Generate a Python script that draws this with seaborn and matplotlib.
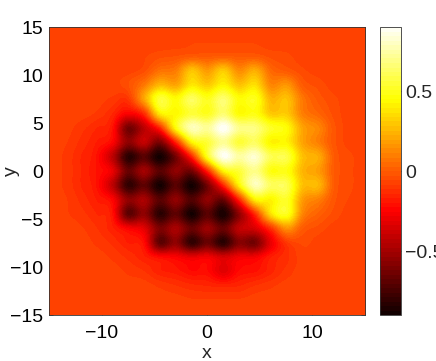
import numpy as np
import pandas as pd
import matplotlib
matplotlib.use("Agg")
import matplotlib.pyplot as plt
from matplotlib.colors import ListedColormap
import seaborn as sns

# node positions of the field
x_nodes = [-15, -13.5, -12, -10.5, -9, -7.5, -6, -4.5, -3, -1.5, 0, 1.5, 3, 4.5, 6, 7.5, 9, 10.5, 12, 13.5, 15]
y_nodes = [15, 13.5, 12, 10.5, 9, 7.5, 6, 4.5, 3, 1.5, 0, -1.5, -3, -4.5, -6, -7.5, -9, -10.5, -12, -13.5, -15]

values = [
    [-.07,-.07,-.07,-.07,-.07,-.07,-.07,-.07,-.07,-.07,-.07,-.07,-.07,-.07,-.07,-.07,-.07,-.07,-.07,-.07,-.07],
    [-.07,-.07,-.07,-.07,-.07,-.07,-.07,-.07,-.07,-.06,-.06,-.06,-.06,-.06,-.07,-.07,-.07,-.07,-.07,-.07,-.07],
    [-.07,-.07,-.07,-.07,-.07,-.07,-.06,-.04,-.03,-.01,-.01,0,-.01,-.01,-.04,-.05,-.07,-.07,-.07,-.07,-.07],
    [-.07,-.07,-.07,-.07,-.07,-.07,-.04,.06,.09,.28,.17,.3,.13,.22,.04,-.01,-.05,-.07,-.07,-.07,-.07],
    [-.07,-.07,-.07,-.07,-.07,-.03,.08,.25,.2,.38,.3,.42,.28,.36,.12,.16,0,-.04,-.07,-.07,-.07],
    [-.07,-.07,-.07,-.07,-.09,-.1,.2,.55,.45,.62,.5,.65,.46,.5,.24,.28,.08,-.01,-.05,-.07,-.07],
    [-.07,-.07,-.07,-.09,-.14,-.25,-.12,.4,.43,.55,.5,.65,.45,.48,.3,.3,.1,.03,-.04,-.07,-.07],
    [-.07,-.07,-.1,-.14,-.2,-.62,-.42,-.14,.45,.78,.72,.9,.7,.68,.52,.45,.2,.12,-.02,-.07,-.07],
    [-.07,-.08,-.12,-.17,-.24,-.55,-.4,-.6,-.15,.42,.55,.72,.55,.62,.42,.42,.2,.1,-.02,-.07,-.07],
    [-.07,-.09,-.14,-.2,-.42,-.82,-.7,-.88,-.62,-.15,.5,.88,.74,.82,.6,.58,.28,.22,0,-.05,-.07],
    [-.07,-.09,-.14,-.2,-.3,-.66,-.5,-.7,-.55,-.62,-.15,.42,.55,.7,.48,.48,.25,.18,0,-.05,-.07],
    [-.07,-.09,-.14,-.2,-.42,-.8,-.68,-.88,-.7,-.88,-.62,-.15,.42,.78,.62,.6,.28,.25,0,-.05,-.07],
    [-.07,-.08,-.12,-.17,-.24,-.55,-.48,-.7,-.55,-.72,-.55,-.65,-.15,.4,.42,.52,.18,.1,-.02,-.06,-.07],
    [-.07,-.08,-.1,-.14,-.2,-.68,-.55,-.82,-.68,-.88,-.7,-.87,-.55,-.13,.36,.5,.12,.02,-.04,-.07,-.07],
    [-.07,-.07,-.08,-.11,-.16,-.25,-.32,-.6,-.48,-.66,-.52,-.66,-.42,-.35,-.12,.15,0,-.04,-.07,-.07,-.07],
    [-.07,-.07,-.07,-.09,-.12,-.17,-.22,-.68,-.55,-.8,-.65,-.82,-.58,-.62,-.3,-.1,-.05,-.07,-.07,-.07,-.07],
    [-.07,-.07,-.07,-.07,-.09,-.12,-.16,-.22,-.25,-.3,-.27,-.35,-.28,-.27,-.17,-.12,-.07,-.07,-.07,-.07,-.07],
    [-.07,-.07,-.07,-.07,-.07,-.09,-.11,-.16,-.18,-.22,-.22,-.32,-.22,-.2,-.15,-.1,-.07,-.07,-.07,-.07,-.07],
    [-.07,-.07,-.07,-.07,-.07,-.07,-.07,-.09,-.11,-.13,-.14,-.15,-.14,-.11,-.09,-.07,-.07,-.07,-.07,-.07,-.07],
    [-.07,-.07,-.07,-.07,-.07,-.07,-.07,-.07,-.07,-.08,-.08,-.08,-.08,-.07,-.07,-.07,-.07,-.07,-.07,-.07,-.07],
    [-.07,-.07,-.07,-.07,-.07,-.07,-.07,-.07,-.07,-.07,-.07,-.07,-.07,-.07,-.07,-.07,-.07,-.07,-.07,-.07,-.07],
]

x_ticks = [-10, 0, 10]
x_labels = ["\u221210", "0", "10"]
y_ticks = [15, 10, 5, 0, -5, -10, -15]
y_labels = ["15", "10", "5", "0", "\u22125", "\u221210", "\u221215"]
cbar_ticks = [-0.5, 0, 0.5]
cbar_labels = ["\u22120.5", "0", "0.5"]

sns.set_theme(style="ticks")
plt.rcParams["font.family"] = "Liberation Sans"
plt.rcParams["xtick.direction"] = "in"
plt.rcParams["ytick.direction"] = "in"

hot64 = ListedColormap(sns.color_palette("hot", 64))
df = pd.DataFrame(values, index=y_nodes, columns=x_nodes)

fig = plt.figure(figsize=(4.36, 3.61), dpi=100)
ax = fig.add_axes([49 / 436, 46 / 361, 316 / 436, 288 / 361])
cax = fig.add_axes([380 / 436, 46 / 361, 21 / 436, 288 / 361])

ax = sns.heatmap(df, cmap=hot64, vmin=-0.9, vmax=0.9, ax=ax, cbar_ax=cax,
                 cbar_kws={"ticks": cbar_ticks}, xticklabels=False, yticklabels=False)

# heatmap gives square cells, the original is a smoothed surface
mesh = ax.collections[0]
mesh.set_visible(False)
ax.imshow(df.to_numpy(), cmap=hot64, vmin=-0.9, vmax=0.9, interpolation="catrom",
          extent=(-15.75, 15.75, -15.75, 15.75), aspect="auto", zorder=1)
ax.set_xlim(-15, 15)
ax.set_ylim(-15, 15)

ax.set_xticks(x_ticks)
ax.set_xticklabels(x_labels)
ax.set_yticks(y_ticks)
ax.set_yticklabels(y_labels)
ax.tick_params(direction="in", length=3, width=0.5, labelsize=14, top=True, right=True, pad=4,
               color="#333333", labelcolor="black")
ax.tick_params(axis="x", pad=7)
ax.set_xlabel("x", fontsize=14, labelpad=2)
ax.set_ylabel("y", fontsize=14)
ax.yaxis.set_label_coords(-0.092, 0.5)
for s in ax.spines.values():
    s.set_visible(True)
    s.set_linewidth(0.6)
    s.set_color("#333333")

cb = mesh.colorbar
cb.outline.set_linewidth(0.6)
cb.outline.set_edgecolor("#333333")
cb.set_ticks(cbar_ticks)
cb.set_ticklabels(cbar_labels)
cax.tick_params(direction="in", length=3, width=0.5, labelsize=14, pad=3, color="#333333")

fig.savefig("out.png", dpi=100)
